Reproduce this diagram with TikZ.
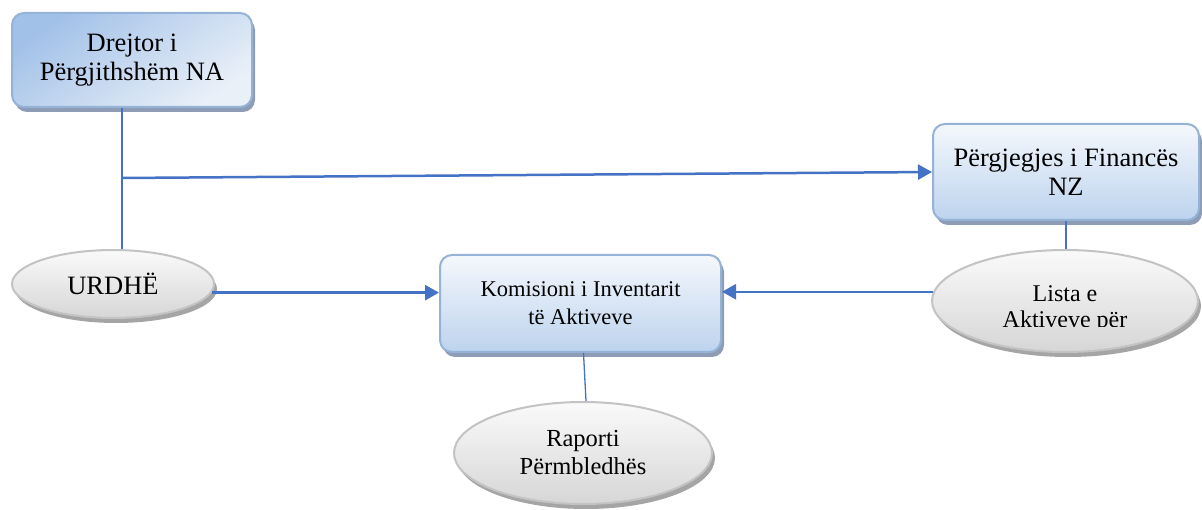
\documentclass[tikz,border=0pt]{standalone}
\usepackage{fontspec}
\setmainfont{Liberation Serif}
\usetikzlibrary{shapes.geometric,shadows,arrows.meta,calc}
\definecolor{lnblue}{HTML}{4472C4}
\definecolor{bxborder}{HTML}{95B3D7}
\definecolor{bxtop}{HTML}{F4F8FC}
\definecolor{bxbot}{HTML}{BDD3EE}
\definecolor{bxshadow}{HTML}{8E9DB5}
\definecolor{bxdark}{HTML}{A2C1E8}
\definecolor{bxlight}{HTML}{EAF0F8}
\definecolor{eltop}{HTML}{FAFAFA}
\definecolor{elbot}{HTML}{D6D6D6}
\definecolor{elborder}{HTML}{C3C3C3}
\definecolor{elshadow}{HTML}{A5A5A5}
\tikzset{
  txt/.style={font=\fontsize{24.5}{28}\selectfont, align=center, text=black},
  bigtxt/.style={font=\fontsize{26.5}{29}\selectfont},
  smalltxt/.style={font=\fontsize{22.5}{28}\selectfont},
  bx/.style={txt, rectangle, rounded corners=12pt, draw=bxborder, line width=2pt,
    top color=bxtop, bottom color=bxbot, inner sep=0pt,
    drop shadow={shadow xshift=3pt, shadow yshift=-5pt, fill=bxshadow, opacity=1}},
  el/.style={txt, ellipse, draw=elborder, line width=2pt, inner sep=0pt,
    top color=eltop, bottom color=elbot,
    drop shadow={shadow xshift=3pt, shadow yshift=-5pt, fill=elshadow, opacity=1}},
  thin/.style={draw=lnblue, line width=1.3pt},
  arr/.style={draw=lnblue, line width=2.5pt, -{Triangle[length=14pt,width=15pt]}},
}
\begin{document}
\begin{tikzpicture}[x=1pt,y=-1pt]
\useasboundingbox (0,0) rectangle (1202,510);
% boxes
\node[bx, bigtxt, minimum width=240pt, minimum height=94pt,
  top color=bxdark, bottom color=bxlight, shading angle=35] (dir) at (132,60) {Drejtor i\\Përgjithshëm NA};
\node[bx, bigtxt, minimum width=266pt, minimum height=96pt] (fin) at (1066,172) {Përgjegjes i Financës\\NZ};
\node[bx, smalltxt, minimum width=281pt, minimum height=97pt] (kom) at (580.5,303.5) {Komisioni i Inventarit\\të Aktiveve};
% ellipses
\node[el, bigtxt, minimum width=202pt, minimum height=68pt] (urd) at (113,284) {URDHË};
\node[el, minimum width=266pt, minimum height=102pt] (lst) at (1065,301) {};
\begin{scope}
\clip ($(lst.center)+(-133,-51)$) rectangle ($(lst.center)+(133,26)$);
\node[txt, font=\fontsize{24}{26}\selectfont] (lstt) at (1065,309) {Lista e\\Aktiveve për};
\end{scope}
\node[el, minimum width=258pt, minimum height=102pt] (rap) at (583,453) {Raporti\\Përmbledhës};
% connectors
\coordinate (j) at (122,178);
\draw[thin] (dir.south -| j) -- (j |- urd.north);
\draw[arr] (j) -- (fin.west);
\draw[thin] (fin.south) -- (fin.south |- lst.north);
\draw[arr] (urd.-5) -- (urd.-5 -| kom.west);
\draw[arr] (lst.176) -- (lst.176 -| kom.east);
\draw[thin] ([xshift=3pt]kom.south) -- ([xshift=3pt]rap.north);
\end{tikzpicture}
\end{document}
